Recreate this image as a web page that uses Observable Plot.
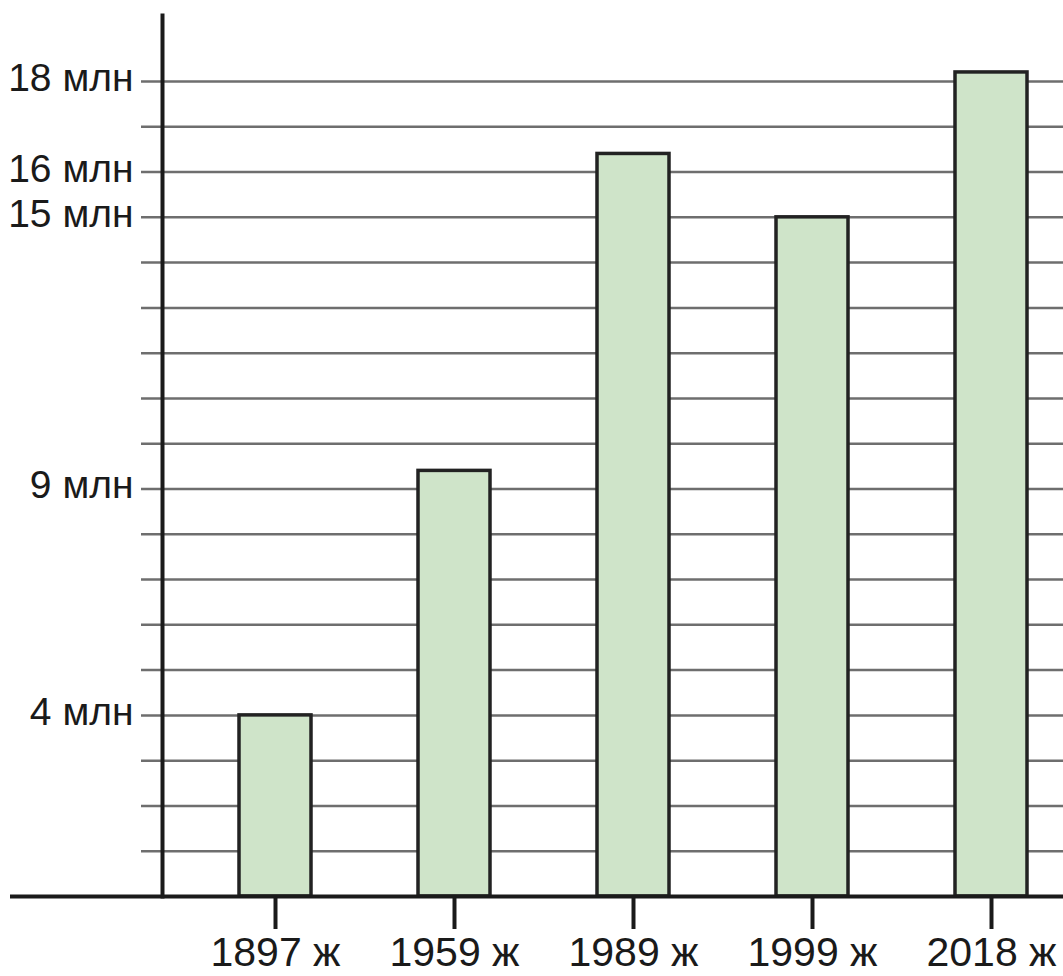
<!DOCTYPE html>
<html>
<head>
<meta charset="utf-8">
<script src="https://cdn.jsdelivr.net/npm/d3@7"></script>
<script src="https://cdn.jsdelivr.net/npm/@observablehq/plot@0.6"></script>
<style>
  html, body { margin: 0; padding: 0; background: #fff; }
  #chart svg { display: block; }
</style>
</head>
<body>
<div id="chart"></div>
<script>
const years = ["1897 ж", "1959 ж", "1989 ж", "1999 ж", "2018 ж"];
const population = [4.0, 9.4, 16.4, 15.0, 18.2]; // million
const gridValues = [1,2,3,4,5,6,7,8,9,10,11,12,13,14,15,16,17,18];
const labelTicks = [4, 9, 15, 16, 18];
const unit = "млн";

const data = years.map((y, i) => ({year: y, value: population[i]}));

const chart = Plot.plot({
  width: 1063,
  height: 976,
  marginLeft: 162,
  marginRight: 0,
  marginTop: 15,
  marginBottom: 80,
  style: {fontFamily: "'Liberation Sans', Arial, sans-serif", fontSize: "39px", color: "#1a1a1a", background: "#fff"},
  x: {domain: years, range: [239, 1027], paddingInner: 0.6, paddingOuter: 0, align: 0.5},
  y: {domain: [0, 18], range: [896, 81]},
  marks: [
    Plot.ruleY(gridValues, {stroke: "#6e6e6e", strokeWidth: 2.5, insetLeft: -21}),
    Plot.barY(data, {x: "year", y: "value", fill: "#cfe4c9", stroke: "#222", strokeWidth: 3.5}),
    Plot.frame({anchor: "left", stroke: "#1a1a1a", strokeWidth: 4}),
    Plot.ruleY([0], {stroke: "#1a1a1a", strokeWidth: 4, insetLeft: -152}),
    Plot.axisY({ticks: labelTicks, tickSize: 0, tickPadding: 29, dy: -3, tickFormat: d => d + " " + unit, fontSize: 39, fill: "#1a1a1a", label: null}),
    Plot.axisX({tickSize: 33, tickPadding: 7, strokeWidth: 4, stroke: "#1a1a1a", fontSize: 41, fill: "#1a1a1a", label: null})
  ]
});
document.getElementById("chart").appendChild(chart);
</script>
</body>
</html>
